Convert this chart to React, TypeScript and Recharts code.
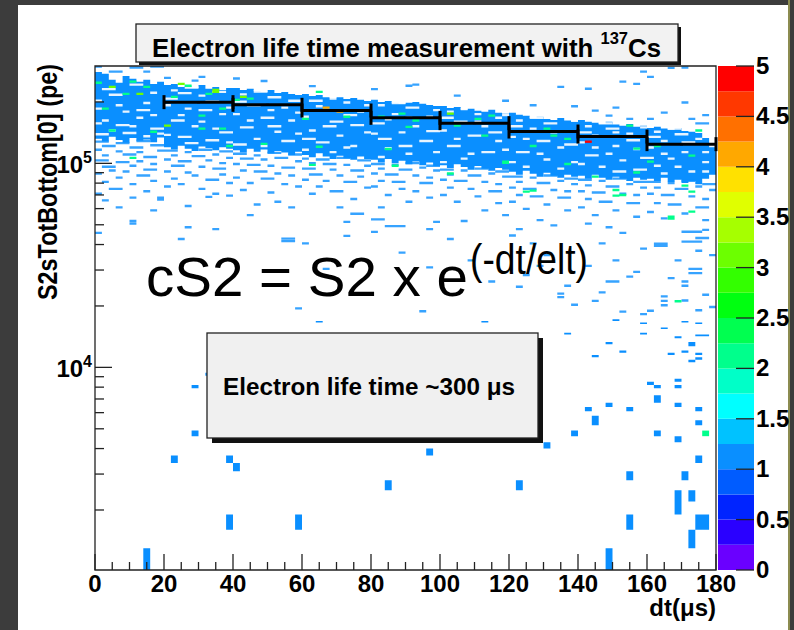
import React from "react";
import {
  ComposedChart,
  Area,
  Scatter,
  ErrorBar,
  XAxis,
  YAxis,
  ReferenceArea,
  BarChart,
  Bar,
} from "recharts";

const NARROW = "'Liberation Sans Narrow', 'Arial Narrow', 'Liberation Sans', Arial, sans-serif";
const SANS = "'Liberation Sans', Arial, Helvetica, sans-serif";

// dt bins are 2 us wide, 0..180
const dtBin = 2;

// dense core of the band per dt bin (kpe)
const coreTop = [
  280, 275, 257, 248, 268, 260, 251, 257, 245, 251,
  242, 245, 237, 240, 234, 242, 232, 237, 229, 234,
  234, 229, 232, 226, 224, 229, 221, 224, 219, 216,
  219, 214, 216, 211, 209, 211, 207, 209, 205, 202,
  205, 200, 202, 198, 196, 198, 200, 196, 193, 191,
  191, 187, 189, 183, 185, 181, 179, 183, 177, 175,
  177, 173, 171, 167, 169, 165, 163, 167, 162, 160,
  163, 160, 158, 156, 160, 155, 153, 156, 151, 153,
  149, 151, 148, 146, 149, 144, 143, 141, 133, 124,
];
const coreBottom = [
  132, 128, 135, 130, 126, 133, 129, 131, 127, 134,
  120, 117, 122, 118, 115, 121, 119, 116, 120, 118,
  116, 113, 118, 114, 117, 112, 115, 113, 110, 114,
  110, 107, 112, 108, 105, 109, 106, 104, 108, 105,
  104, 101, 105, 100, 103, 99, 102, 98, 101, 97,
  98, 95, 99, 96, 93, 97, 94, 92, 95, 93,
  91, 88, 92, 89, 86, 90, 87, 85, 88, 86,
  87, 84, 88, 85, 83, 86, 84, 82, 85, 83,
  84, 82, 85, 81, 83, 80, 82, 79, 84, 88,
];

// empty rows inside the core: [dt from, dt to, kpe]
const coreGaps = [
  [0, 2, 200], [4, 8, 214], [16, 18, 219], [14, 16, 195], [0, 2, 183], [8, 10, 177], [12, 16, 180],
  [2, 4, 160], [10, 12, 150], [4, 6, 143], [16, 20, 146], [0, 4, 137], [8, 12, 139], [14, 16, 134],
  [2, 6, 228], [10, 14, 240], [6, 8, 190], [16, 18, 170], [0, 2, 155], [12, 14, 165], [6, 10, 152], [18, 20, 138],
  [22, 24, 225], [24, 28, 218], [34, 38, 221], [30, 32, 212], [20, 22, 190], [26, 28, 183], [36, 38, 172],
  [30, 34, 180], [22, 26, 160], [28, 30, 150], [34, 36, 146], [20, 22, 136], [24, 28, 133], [32, 36, 128], [38, 40, 125],
  [26, 30, 232], [20, 24, 205], [32, 36, 198], [38, 40, 185], [24, 26, 170], [30, 32, 158], [36, 40, 140], [26, 30, 124],
  [42, 44, 215], [50, 54, 208], [44, 48, 190], [54, 56, 185], [40, 42, 172], [48, 52, 165], [56, 58, 160],
  [42, 46, 148], [52, 54, 141], [46, 48, 130], [54, 58, 127], [40, 44, 122],
  [46, 50, 222], [56, 60, 200], [40, 44, 198], [50, 52, 180], [58, 60, 175], [44, 46, 160], [50, 54, 150], [58, 60, 138], [48, 50, 120],
  [62, 66, 200], [72, 74, 196], [66, 68, 180], [76, 78, 177], [60, 62, 167], [68, 72, 158], [74, 78, 152],
  [62, 64, 143], [70, 72, 135], [64, 68, 125], [74, 76, 120], [60, 62, 115],
  [68, 70, 205], [78, 80, 190], [64, 66, 188], [72, 76, 170], [66, 70, 150], [78, 80, 140], [60, 64, 130], [72, 74, 118], [68, 70, 112],
  [82, 84, 190], [90, 94, 185], [86, 88, 172], [96, 98, 167], [80, 84, 155], [92, 94, 150], [88, 90, 140],
  [82, 86, 130], [94, 98, 127], [84, 86, 117], [90, 92, 110],
  [86, 90, 195], [98, 100, 180], [84, 86, 162], [90, 92, 165], [96, 100, 142], [80, 82, 138], [88, 92, 120], [98, 100, 112], [82, 84, 106],
  [102, 104, 177], [110, 112, 172], [116, 118, 165], [104, 108, 158], [112, 114, 150], [100, 102, 143],
  [108, 112, 135], [116, 118, 127], [102, 106, 120], [112, 116, 112], [106, 108, 104],
  [106, 108, 182], [118, 120, 170], [100, 104, 165], [110, 112, 158], [114, 118, 140], [104, 106, 130], [118, 120, 115], [108, 110, 110], [100, 102, 100],
  [122, 124, 160], [130, 134, 155], [126, 128, 146], [136, 138, 141], [120, 122, 133], [128, 132, 127],
  [134, 136, 118], [122, 126, 112], [130, 132, 103], [138, 140, 100], [124, 126, 95],
  [126, 130, 165], [138, 140, 160], [120, 124, 150], [132, 134, 140], [124, 126, 130], [136, 140, 122], [128, 130, 110], [120, 122, 100], [134, 136, 93],
  [142, 144, 150], [148, 152, 146], [144, 146, 135], [154, 156, 138], [140, 142, 125], [150, 152, 120],
  [156, 158, 116], [142, 146, 108], [152, 154, 102], [146, 148, 95], [156, 160, 92],
  [146, 150, 155], [158, 160, 148], [150, 152, 140], [140, 144, 140], [154, 158, 128], [144, 146, 118], [148, 150, 110], [158, 160, 105], [140, 142, 98], [150, 154, 90],
  [162, 164, 141], [168, 172, 137], [164, 166, 127], [174, 176, 130], [160, 162, 118], [170, 172, 112],
  [166, 168, 104], [176, 178, 100], [162, 164, 96], [172, 174, 90],
  [166, 170, 146], [178, 180, 120], [160, 164, 133], [170, 174, 125], [176, 178, 112], [164, 166, 110], [160, 162, 105], [168, 170, 95], [176, 178, 90], [164, 166, 88],
];

// single-entry rows outside the core: [dt from, dt to, kpe]
const rowCells = [
  // above the band
  [0, 2, 294], [4, 8, 278], [10, 14, 291], [14, 16, 278], [16, 20, 294], [20, 22, 259], [28, 30, 251],
  [30, 32, 262], [40, 42, 257], [48, 50, 250], [62, 64, 236], [80, 82, 228], [90, 92, 237], [92, 94, 240],
  [104, 106, 212], [118, 120, 200], [126, 128, 190], [134, 136, 234], [138, 140, 188], [142, 144, 229],
  [144, 146, 179], [148, 150, 169], [150, 152, 185], [152, 154, 248], [154, 156, 163], [156, 158, 242],
  [158, 160, 278], [160, 162, 262], [160, 162, 163], [164, 166, 175], [166, 168, 290], [170, 172, 291],
  [170, 172, 196], [172, 174, 163], [174, 178, 155], [176, 178, 170],
  // 0-20 us
  [0, 4, 126], [6, 10, 124], [12, 16, 127], [2, 6, 120], [10, 14, 118], [16, 20, 121], [0, 2, 115],
  [6, 8, 113], [12, 14, 112], [18, 20, 114], [2, 4, 108], [8, 12, 109], [14, 18, 106], [0, 4, 102],
  [6, 10, 100], [12, 14, 101], [16, 18, 98], [2, 6, 95], [10, 12, 96], [4, 6, 91], [8, 10, 90],
  [14, 18, 92], [0, 2, 88], [12, 16, 86], [6, 8, 84], [2, 4, 80], [16, 18, 81], [10, 12, 78], [4, 8, 74],
  [14, 16, 72], [0, 2, 70], [2, 4, 65], [10, 12, 67], [18, 20, 67], [18, 20, 65.5], [10, 12, 51.5],
  [10, 12, 50], [16, 18, 58], [0, 2, 45], [6, 8, 60],
  // 20-40 us
  [20, 24, 114], [26, 28, 112], [30, 34, 115], [36, 40, 113], [22, 24, 108], [28, 32, 107], [34, 36, 109],
  [38, 40, 105], [20, 22, 103], [24, 28, 101], [32, 34, 102], [36, 38, 99], [22, 26, 96], [30, 32, 95],
  [34, 38, 93], [20, 22, 90], [26, 28, 89], [28, 30, 86], [36, 38, 87], [22, 24, 83], [32, 36, 82],
  [24, 26, 78], [38, 40, 79], [20, 22, 76], [30, 32, 74], [34, 36, 70], [26, 28, 61], [32, 34, 67.6],
  [38, 40, 68.5], [26, 28, 48], [24, 26, 42], [34, 36, 47],
  // 40-60 us
  [40, 44, 110], [46, 48, 108], [50, 54, 111], [56, 60, 109], [42, 46, 104], [48, 50, 103], [52, 56, 105],
  [58, 60, 101], [40, 42, 98], [44, 48, 97], [50, 52, 96], [54, 58, 94], [42, 44, 91], [46, 50, 90],
  [52, 54, 88], [56, 58, 86], [40, 42, 84], [48, 52, 83], [44, 46, 79], [54, 56, 78], [58, 60, 76],
  [42, 44, 73], [50, 52, 71], [52, 54, 64], [46, 48, 62], [56, 58, 60], [54, 58, 42.2], [54, 58, 41],
  [58, 60, 19.2], [44, 46, 55],
  // 60-80 us
  [60, 62, 104], [64, 68, 103], [70, 74, 105], [76, 80, 102], [62, 64, 99], [66, 70, 98], [72, 74, 97],
  [78, 80, 96], [60, 64, 93], [68, 70, 92], [74, 78, 91], [62, 66, 87], [70, 72, 86], [76, 78, 85],
  [60, 62, 82], [66, 68, 81], [72, 76, 80], [64, 66, 76], [78, 80, 75], [68, 72, 72], [62, 64, 70],
  [74, 76, 66], [70, 72, 60], [72, 74, 51], [72, 74, 43.5], [74, 78, 55.9], [60, 62, 40], [66, 68, 30],
  // 80-100 us
  [80, 84, 98], [86, 88, 97], [90, 94, 99], [96, 100, 96], [82, 84, 93], [88, 92, 92], [94, 96, 94],
  [98, 100, 91], [80, 82, 88], [84, 88, 87], [92, 94, 86], [96, 98, 84], [82, 84, 81], [86, 90, 80],
  [94, 98, 79], [80, 82, 76], [88, 90, 74], [92, 94, 72], [84, 86, 69], [96, 98, 67], [90, 92, 64],
  [82, 84, 60], [80, 82, 45.5], [80, 84, 52.4], [84, 90, 48.6], [94, 96, 18.6], [96, 98, 30.5],
  [96, 98, 47], [98, 100, 51], [88, 90, 36],
  // 100-120 us
  [100, 104, 92], [106, 108, 91], [110, 114, 93], [116, 120, 90], [102, 104, 87], [108, 112, 86],
  [114, 116, 88], [118, 120, 85], [100, 102, 82], [104, 108, 81], [112, 114, 80], [116, 118, 78],
  [102, 104, 75], [108, 110, 74], [114, 118, 72], [100, 102, 69], [110, 112, 68], [104, 106, 64],
  [116, 118, 63], [106, 108, 51.5], [112, 114, 58], [118, 120, 55], [102, 104, 42], [108, 110, 33],
  [114, 116, 26],
  // 120-140 us
  [120, 124, 85], [126, 128, 84], [130, 134, 86], [136, 140, 83], [122, 124, 80], [128, 132, 79],
  [134, 136, 81], [138, 140, 78], [120, 122, 75], [124, 128, 74], [132, 134, 73], [136, 138, 72],
  [122, 124, 69], [126, 130, 68], [134, 138, 67], [120, 122, 64], [130, 132, 62], [124, 126, 59],
  [136, 138, 58], [122, 124, 47], [128, 130, 52], [132, 134, 49], [120, 122, 43.7], [126, 128, 40],
  [134, 136, 22.7], [134, 136, 21.8], [122, 124, 24.5], [130, 132, 35], [136, 138, 24.8], [124, 126, 28],
  [138, 140, 20], [128, 130, 31],
  // 140-160 us
  [140, 144, 82], [146, 148, 81], [150, 154, 83], [156, 160, 80], [142, 144, 77], [148, 152, 76],
  [154, 156, 78], [158, 160, 75], [140, 142, 72], [144, 148, 71], [152, 154, 70], [156, 158, 69],
  [142, 144, 66], [146, 150, 64], [154, 158, 63], [140, 142, 60], [150, 152, 58], [144, 146, 55],
  [156, 158, 54], [142, 144, 50], [148, 150, 48], [152, 154, 45], [158, 160, 37.7], [146, 148, 40],
  [154, 156, 27.5], [144, 146, 20.9], [148, 152, 26], [142, 144, 31], [150, 152, 33], [156, 158, 29],
  [152, 154, 18.5], [158, 160, 18], [146, 148, 23],
  // 160-180 us
  [160, 164, 80], [166, 168, 79], [170, 174, 81], [176, 180, 78], [162, 164, 75], [168, 172, 74],
  [174, 176, 76], [178, 180, 73], [160, 162, 70], [164, 168, 69], [172, 174, 68], [176, 178, 66],
  [162, 164, 63], [166, 170, 62], [174, 178, 60], [160, 162, 57], [170, 172, 56], [164, 166, 53],
  [176, 178, 52], [176, 178, 46.6], [170, 176, 45.6], [170, 176, 40.8], [162, 166, 39.8], [162, 166, 38.9],
  [174, 176, 36.8], [168, 170, 33], [172, 176, 30], [172, 176, 28.6], [170, 172, 26], [170, 172, 24.8],
  [164, 166, 22], [164, 166, 20.9], [164, 166, 19.9], [170, 172, 21], [160, 162, 18.7], [174, 176, 18.8],
  [178, 180, 19.5], [176, 178, 22.4], [166, 168, 27], [178, 180, 35], [174, 178, 42.5],
];

// bins with more than one entry: [dt, kpe, entries]
const hotCells = [
  [0, 245, 2], [4, 234, 3], [8, 216, 2], [10, 248, 2], [12, 216, 3], [14, 234, 2], [22, 209, 2],
  [24, 242, 3], [26, 237, 2], [32, 216, 2], [34, 226, 3], [36, 183, 2], [40, 202, 2], [42, 209, 3],
  [2, 183, 2], [4, 143, 2], [16, 141, 2], [20, 151, 3], [30, 169, 2], [30, 146, 2], [36, 146, 2],
  [10, 105, 2], [38, 120, 2], [34, 221, 3], [44, 205, 2], [48, 123, 2], [66, 185, 4], [70, 177, 4],
  [64, 221, 2], [60, 163, 2], [72, 167, 2], [82, 167, 2], [84, 116, 2], [92, 160, 2], [64, 119, 2],
  [86, 96, 2], [88, 173, 2], [90, 149, 2], [102, 173, 3], [104, 151, 2], [110, 163, 2], [114, 169, 2],
  [112, 135, 2], [126, 120, 2], [130, 146, 2], [132, 135, 2], [136, 130, 2], [142, 126, 5], [144, 85, 2],
  [154, 151, 2], [150, 68.5, 2], [156, 116.5, 2], [160, 100.6, 2], [162, 120, 2], [170, 76.7, 2],
  [172, 107.6, 2], [174, 143, 2], [172, 57.2, 2], [166, 54, 2], [124, 71.7, 2], [118, 100.6, 2],
  [168, 20.8, 2], [126, 72.5, 2], [150, 73, 2], [166, 52.9, 2], [152, 69, 2], [172, 71.7, 2],
  [62, 97, 2], [102, 88, 2], [118, 99.4, 2], [136, 98, 2], [156, 89, 2],
];

// low-S2 tail with real bin edges (pe): [dt, S2 low, S2 high, entries]
const tailCells = [
  [64, 16600, 16900, 1], [112, 16600, 16900, 1], [150, 16900, 17200, 1], [158, 16300, 16600, 1],
  [164, 15400, 15700, 1], [170, 16600, 16900, 1], [174, 16300, 16600, 1], [136, 14500, 14800, 1],
  [158, 14500, 14800, 1], [168, 13900, 14200, 1], [172, 12700, 13300, 1], [174, 14200, 14500, 1],
  [176, 14200, 14500, 1], [148, 13000, 13300, 1], [152, 11800, 12100, 1], [166, 11500, 11800, 1],
  [170, 11800, 12100, 1], [174, 11500, 11800, 1], [172, 10600, 10900, 1], [174, 10900, 11200, 1],
  [144, 11200, 11500, 1], [28, 7900, 8200, 1], [32, 9100, 9400, 1], [160, 8200, 8500, 1],
  [162, 7900, 8200, 1], [168, 8500, 8800, 1], [168, 7900, 8200, 1], [162, 6700, 7300, 1],
  [148, 6400, 6700, 1], [142, 6100, 6400, 1], [154, 6100, 6400, 1], [168, 6400, 6700, 1],
  [174, 6100, 6400, 1], [144, 5200, 5800, 1], [174, 5200, 5500, 1], [28, 4600, 4900, 1],
  [138, 4600, 4900, 1], [162, 4600, 4900, 1], [176, 4600, 4900, 2], [168, 4300, 4600, 1],
  [130, 4000, 4300, 1], [96, 3700, 4000, 1], [22, 3400, 3700, 1], [38, 3400, 3700, 1],
  [174, 3400, 3700, 1], [40, 3100, 3400, 1], [154, 2800, 3100, 1], [170, 2800, 3100, 1],
  [84, 2500, 2800, 1], [122, 2500, 2800, 1], [168, 1900, 2500, 1], [172, 2200, 2500, 1],
  [38, 1600, 1900, 1], [58, 1600, 1900, 1], [154, 1600, 1900, 1], [174, 1600, 1900, 1],
  [176, 1600, 1900, 1], [172, 1300, 1600, 1], [14, 1000, 1300, 1], [148, 1000, 1300, 1],
];

// profile (black)
const profDt = [30, 50, 70, 90, 110, 130, 150, 170];
const profDtErr = [10, 10, 10, 10, 10, 10, 10, 10];
const profS2 = [199500, 193600, 181500, 167100, 157400, 143200, 135300, 124200];
const profS2Err = [2500, 2200, 2000, 1800, 1700, 1600, 1600, 1700];

const dtTicks = [
  0, 5, 10, 15, 20, 25, 30, 35, 40, 45, 50, 55, 60, 65, 70, 75, 80, 85, 90,
  95, 100, 105, 110, 115, 120, 125, 130, 135, 140, 145, 150, 155, 160, 165, 170, 175, 180,
];
const s2Ticks = [
  2000, 3000, 4000, 5000, 6000, 7000, 8000, 9000, 10000,
  20000, 30000, 40000, 50000, 60000, 70000, 80000, 90000, 100000, 200000,
];
const s2Domain = [1016, 300000];

// z palette, 0 -> 5 in 0.25 steps
const zStep = 0.25;
const zTicks = [0, 0.5, 1, 1.5, 2, 2.5, 3, 3.5, 4, 4.5, 5];
const palette = [
  "#6a00ff", "#2a00ff", "#0024ff", "#005cff", "#0a8fff", "#00c2ff", "#00ffff", "#00ffc8",
  "#00ff8c", "#00ff50", "#00ff10", "#33ff00", "#6cff00", "#a6ff00", "#e0ff00", "#ffe100",
  "#ffa800", "#ff7000", "#ff3800", "#ff0000",
];
const zColor = (n: number) => palette[Math.min(palette.length - 1, Math.floor(n / zStep))];

const ROW = 0.027; // drawn thickness of one S2 row

const rows = (list: number[][]) =>
  list.flatMap(([a, b, k]) => {
    const v = [k * 1000, k * 1000 * (1 + ROW)];
    return [{ dt: a, s2: v }, { dt: b, s2: v }, { dt: b, s2: null }];
  });

const coreData = coreTop.flatMap((t, i) => {
  const v = [coreBottom[i] * 1000, t * 1000];
  return [{ dt: i * dtBin, s2: v }, { dt: (i + 1) * dtBin, s2: v }];
});

const hotData = (n: number) =>
  hotCells
    .filter((c) => c[2] === n)
    .flatMap(([x, k]) => {
      const v = [k * 1000, k * 1000 * (1 + ROW)];
      return [{ dt: x, s2: v }, { dt: x + dtBin, s2: v }, { dt: x + dtBin, s2: null }];
    });

const tailData = (n: number) =>
  tailCells
    .filter((c) => c[3] === n)
    .flatMap(([x, lo, hi]) => {
      const v = [lo, hi];
      return [{ dt: x, s2: v }, { dt: x + dtBin, s2: v }, { dt: x + dtBin, s2: null }];
    });

const profileData = profDt.map((dt, i) => ({
  dt,
  s2: profS2[i],
  dtErr: profDtErr[i],
  s2Err: profS2Err[i],
}));

const zRow = [Object.fromEntries([["name", "z"], ...palette.map((_, i) => [`z${i}`, zStep])])];

function DtTick(props: any) {
  const { x, y, payload } = props;
  const v = payload.value;
  const major = v % 20 === 0;
  return (
    <g>
      <line x1={x} x2={x} y1={y} y2={y - (major ? 16 : 8)} stroke="#222" strokeWidth={1.3} />
      {major && (
        <text x={x} y={y + 22} textAnchor="middle" fontFamily={NARROW} fontWeight="bold" fontSize={24} fill="#000">
          {v}
        </text>
      )}
    </g>
  );
}

function S2Tick(props: any) {
  const { x, y, payload } = props;
  const lg = Math.log10(payload.value);
  const exp = Math.round(lg);
  const major = Math.abs(lg - exp) < 1e-9;
  return (
    <g>
      <line x1={x} x2={x + (major ? 17 : 9)} y1={y} y2={y} stroke="#222" strokeWidth={1.3} />
      {major && (
        <text x={x - 3} y={y + 10} textAnchor="end" fontFamily={NARROW} fontWeight="bold" fontSize={24} fill="#000">
          10
          <tspan dy={-10} fontSize={16}>
            {exp}
          </tspan>
        </text>
      )}
    </g>
  );
}

function ZTick(props: any) {
  const { x, y, payload } = props;
  return (
    <g>
      <line x1={x - 18} x2={x} y1={y} y2={y} stroke="#222" strokeWidth={1.3} />
      <text x={x + 2} y={y + 8} fontFamily={NARROW} fontWeight="bold" fontSize={24} fill="#000">
        {payload.value}
      </text>
    </g>
  );
}

const cellArea = (key: string, data: any[], fill: string, opacity = 1) => (
  <Area
    key={key}
    data={data}
    dataKey="s2"
    type="linear"
    stroke="none"
    fill={fill}
    fillOpacity={opacity}
    dot={false}
    activeDot={false}
    connectNulls={false}
    isAnimationActive={false}
  />
);

export default function App() {
  return (
    <div style={{ position: "absolute", left: 0, top: 0, width: 794, height: 630, background: "#3c3c3c", overflow: "hidden" }}>
      <div style={{ position: "absolute", left: 18, top: 5, width: 770, height: 625, background: "#fff" }} />
      <div style={{ position: "absolute", left: 788, top: 0, width: 2, height: 630, background: "#8c8c50" }} />

      <div style={{ position: "absolute", left: 0, top: 0 }}>
        <ComposedChart width={794} height={630} margin={{ top: 66, right: 78, bottom: 20, left: 35 }}>
          <XAxis
            dataKey="dt"
            type="number"
            domain={[0, 180]}
            allowDataOverflow
            ticks={dtTicks}
            interval={0}
            tickSize={0}
            tickMargin={0}
            height={40}
            axisLine={false}
            tick={<DtTick />}
          />
          <YAxis
            type="number"
            scale="log"
            domain={s2Domain}
            allowDataOverflow
            ticks={s2Ticks}
            interval={0}
            tickSize={0}
            tickMargin={0}
            width={60}
            axisLine={false}
            tick={<S2Tick />}
          />
          {cellArea("core", coreData, zColor(1))}
          {cellArea("gaps", rows(coreGaps), "#ffffff", 0.9)}
          {cellArea("rows", rows(rowCells), zColor(1), 0.82)}
          {cellArea("tail1", tailData(1), zColor(1))}
          {cellArea("tail2", tailData(2), zColor(2))}
          {[2, 3, 4, 5].map((n) => cellArea(`hot${n}`, hotData(n), zColor(n)))}
          <Scatter data={profileData} dataKey="s2" isAnimationActive={false} shape={() => <g />}>
            <ErrorBar dataKey="dtErr" direction="x" width={7} stroke="#000" strokeWidth={3} />
            <ErrorBar dataKey="s2Err" direction="y" width={0} stroke="#000" strokeWidth={3} />
          </Scatter>
          <ReferenceArea
            x1={0}
            x2={180}
            y1={s2Domain[0]}
            y2={s2Domain[1]}
            fill="none"
            stroke="#222"
            strokeWidth={1.3}
            ifOverflow="visible"
          />
        </ComposedChart>
      </div>

      <div style={{ position: "absolute", left: 718, top: 46 }}>
        <BarChart width={76} height={544} data={zRow} margin={{ top: 20, right: 0, bottom: 20, left: 0 }} barCategoryGap={0} barGap={0}>
          <XAxis dataKey="name" hide />
          <YAxis
            orientation="right"
            type="number"
            domain={[0, 5]}
            allowDataOverflow
            ticks={zTicks}
            interval={0}
            tickSize={0}
            tickMargin={0}
            width={40}
            axisLine={false}
            tick={<ZTick />}
          />
          {palette.map((c, i) => (
            <Bar key={i} dataKey={`z${i}`} stackId="z" fill={c} isAnimationActive={false} />
          ))}
        </BarChart>
      </div>

      <svg width={794} height={630} style={{ position: "absolute", left: 0, top: 0, pointerEvents: "none" }}>
        <rect x={139} y={27} width={542} height={38} fill="#111" />
        <rect x={136} y={24} width={542} height={38} fill="#f2f2f2" stroke="#222" strokeWidth={1.3} />
        <text x={152} y={57} textLength={509} lengthAdjust="spacingAndGlyphs" fontFamily={NARROW} fontWeight="bold" fontSize={25} fill="#000">
          Electron life time measurement with{" "}
          <tspan dy={-13} fontSize={16}>137</tspan>
          <tspan dy={13}>Cs</tspan>
        </text>

        <text x={146} y={296} textLength={322} lengthAdjust="spacingAndGlyphs" fontFamily={SANS} fontSize={56} fill="#000">
          cS2 = S2 x e
        </text>
        <text x={470} y={274} textLength={118} lengthAdjust="spacingAndGlyphs" fontFamily={SANS} fontSize={42} fill="#000">
          (-dt/elt)
        </text>

        <rect x={212} y={338} width={331} height={105} fill="#111" />
        <rect x={207} y={333} width={331} height={105} fill="#f0f0f0" stroke="#222" strokeWidth={1.3} />
        <text x={223} y={395} textLength={292} lengthAdjust="spacingAndGlyphs" fontFamily={NARROW} fontWeight="bold" fontSize={23} fill="#000">
          Electron life time ~300 μs
        </text>

        <text transform="translate(57, 64) rotate(-90)" textAnchor="end" textLength={236} lengthAdjust="spacingAndGlyphs" fontFamily={NARROW} fontWeight="bold" fontSize={27} fill="#000">
          S2sTotBottom[0] (pe)
        </text>
        <text x={716} y={616} textAnchor="end" fontFamily={NARROW} fontWeight="bold" fontSize={24} fill="#000">
          dt(μs)
        </text>
      </svg>
    </div>
  );
}
